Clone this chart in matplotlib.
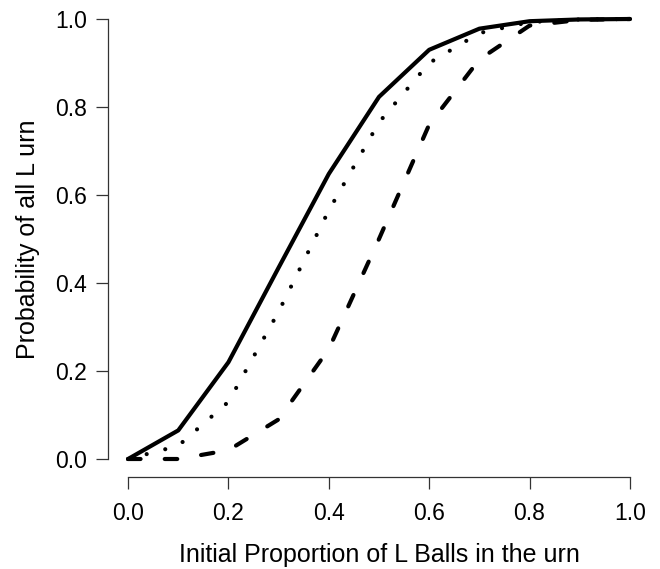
import matplotlib
matplotlib.use("Agg")
import matplotlib.pyplot as plt

proportion = [0.0, 0.1, 0.2, 0.3, 0.4, 0.5, 0.6, 0.7, 0.8, 0.9, 1.0]
prob_solid = [0.0, 0.065, 0.22, 0.435, 0.648, 0.823, 0.93, 0.978, 0.995, 0.999, 1.0]
prob_dotted = [0.0, 0.03, 0.13, 0.335, 0.565, 0.765, 0.9, 0.968, 0.993, 0.999, 1.0]
prob_dashed = [0.0, 0.0, 0.02, 0.09, 0.25, 0.5, 0.76, 0.908, 0.985, 0.998, 1.0]
ticks = [0.0, 0.2, 0.4, 0.6, 0.8, 1.0]
tick_labels = ["0.0", "0.2", "0.4", "0.6", "0.8", "1.0"]

plt.rcParams['font.family'] = ['Liberation Sans', 'DejaVu Sans']

fig = plt.figure(figsize=(6.6, 5.69), dpi=100)
ax = fig.add_axes([108/660, 1 - 476.6/569, 542/660, 475.2/569])

lw = 3.0
ax.plot(proportion, prob_solid, color='black', lw=lw, solid_capstyle='round', solid_joinstyle='round')
ax.plot(proportion, prob_dotted, color='black', lw=lw, linestyle=(0, (0.01, 4.6)), dash_capstyle='round')
ax.plot(proportion, prob_dashed, color='black', lw=lw, linestyle=(0, (3.0, 5.8)), dash_capstyle='round')

ax.set_xlim(-0.04, 1.04)
ax.set_ylim(-0.04, 1.04)
for s in ['top', 'right']:
    ax.spines[s].set_visible(False)
for s in ['left', 'bottom']:
    ax.spines[s].set_bounds(0, 1)
    ax.spines[s].set_linewidth(0.9)
    ax.spines[s].set_color('#333333')

ax.set_xticks(ticks)
ax.set_xticklabels(tick_labels)
ax.set_yticks(ticks)
ax.set_yticklabels(tick_labels)
ax.tick_params(length=8.5, width=0.9, color='#333333', labelsize=16.5)
ax.tick_params(axis='x', pad=10)
ax.tick_params(axis='y', pad=6.5)

ax.set_xlabel("Initial Proportion of L Balls in the urn", fontsize=18, labelpad=13)
ax.set_ylabel("Probability of all L urn", fontsize=18, labelpad=11)

fig.savefig("out.png", dpi=100)
